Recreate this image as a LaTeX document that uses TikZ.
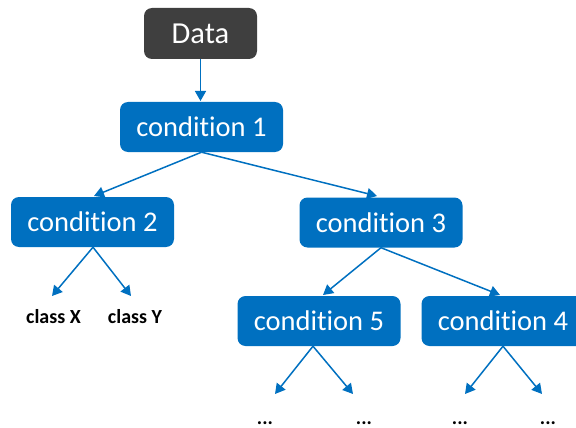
\documentclass[tikz,border=0pt]{standalone}
\usepackage{fontspec}
\setmainfont{Carlito}[Ligatures=NoCommon]
\usetikzlibrary{arrows.meta}
\definecolor{cblue}{HTML}{0070C0}
\definecolor{dgray}{HTML}{3F3F3F}
\tikzset{
  cond/.style={fill=cblue, text=white, rounded corners=8pt, minimum width=163pt, minimum height=50pt, inner sep=0pt, font=\fontsize{28.5}{30}\selectfont},
  datanode/.style={fill=dgray, text=white, rounded corners=8pt, minimum width=113pt, minimum height=51pt, inner sep=0pt, font=\fontsize{30.5}{32}\selectfont},
  leaf/.style={anchor=base, inner sep=0pt, font=\fontsize{20}{22}\selectfont\bfseries},
  arr/.style={draw=cblue, line width=1.5pt, -{Triangle[length=10pt,width=11pt]}},
}
\begin{document}
\begin{tikzpicture}[x=1pt,y=-1pt]
\clip (0,0) rectangle (576,428);
\useasboundingbox (0,0) rectangle (576,428);
\node[datanode] (data) at (200.5,33.5) {Data};
\node[cond] (c1) at (201.5,127) {condition 1};
\node[cond] (c2) at (92.5,222) {condition 2};
\node[cond] (c3) at (381,222.5) {condition 3};
\node[cond] (c5) at (319,321) {condition 5};
\node[cond] (c4) at (503,321) {condition 4};
\node[leaf] (cx) at (53.5,323) {class X};
\node[leaf] (cy) at (135,323) {class Y};
\node[leaf] (d1) at (265,424) {...};
\node[leaf] (d2) at (364,424) {...};
\node[leaf] (d3) at (460,424) {...};
\node[leaf] (d4) at (548,424) {...};
\coordinate (t1) at (200.5,101);
\coordinate (t2) at (94,196);
\coordinate (t3) at (377,196);
\coordinate (tx) at (52,296);
\coordinate (ty) at (131,296);
\coordinate (t5) at (323,295);
\coordinate (t4) at (500,295);
\coordinate (s1) at (275,394);
\coordinate (s2) at (353,394);
\coordinate (s3) at (465,394);
\coordinate (s4) at (542,394);
\draw[arr] (data.south) -- (t1);
\draw[arr] (c1.south) -- (t2);
\draw[arr] (c1.south) -- (t3);
\draw[arr] ([xshift=0.5pt]c2.south) -- (tx);
\draw[arr] ([xshift=0.5pt]c2.south) -- (ty);
\draw[arr] (c3.south) -- (t5);
\draw[arr] (c3.south) -- (t4);
\draw[arr] ([xshift=-6pt]c5.south) -- (s1);
\draw[arr] ([xshift=-6pt]c5.south) -- (s2);
\draw[arr] (c4.south) -- (s3);
\draw[arr] (c4.south) -- (s4);
\end{tikzpicture}
\end{document}
